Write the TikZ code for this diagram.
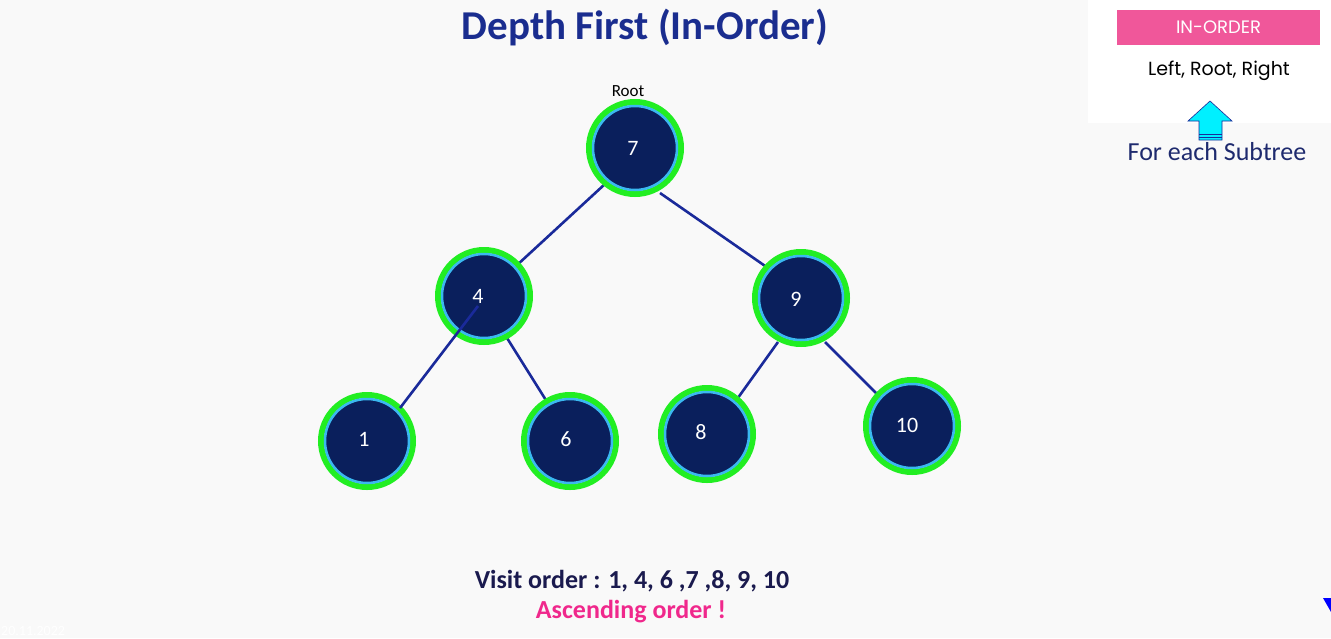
\documentclass[tikz,border=0pt]{standalone}
\usepackage{fontspec}
\setmainfont{Carlito}
\newfontfamily\pop{Poppins}
\definecolor{bg}{HTML}{F9F9F9}
\definecolor{navy}{HTML}{0A1F5C}
\definecolor{ringgreen}{HTML}{22EE22}
\definecolor{ringcyan}{HTML}{3AB8F0}
\definecolor{edgeblue}{HTML}{1A2A9A}
\definecolor{titleblue}{HTML}{1A2D8F}
\definecolor{textnavy}{HTML}{1A1A4E}
\definecolor{pinkbox}{HTML}{F0579A}
\definecolor{pinktext}{HTML}{F0288C}
\definecolor{subnavy}{HTML}{1E2A6E}
\definecolor{arrowcyan}{HTML}{00F0FF}
\begin{document}
\begin{tikzpicture}[x=1pt,y=-1pt,
  ring/.style={draw=ringgreen,line width=6pt},
  edge/.style={draw=edgeblue,line width=2.6pt},
  numlbl/.style={text=white,font=\fontsize{22}{24}\selectfont}]
\fill[bg] (0,0) rectangle (1331,638);
\useasboundingbox (0,0) rectangle (1331,638);
% top right panel
\fill[white] (1088,0) rectangle (1331,123);
\node[fill=pinkbox,minimum width=203pt,minimum height=35pt,inner sep=0pt,text=white,font=\pop\fontsize{18}{20}\selectfont] (io) at (1218.5,27) {IN-ORDER};
\node[text=black,font=\pop\fontsize{19}{21}\selectfont] (lrr) at (1219,71) {Left, Root, Right};
\draw[fill=arrowcyan,draw=edgeblue,line width=0.6pt] (1199,140) -- (1199,121) -- (1188,121) -- (1210,101) -- (1232,121) -- (1222,121) -- (1222,140) -- cycle;
\draw[edgeblue,line width=0.6pt] (1199,134) -- (1222,134) (1199,137) -- (1222,137);
\node[text=subnavy,font=\fontsize{26}{29}\selectfont] (fes) at (1217,152) {For each Subtree};
% title
\node[text=titleblue,font=\bfseries\fontsize{41}{46}\selectfont] (title) at (645,28) {Depth First (In-Order)};
\node[text=black,font=\fontsize{17}{19}\selectfont] (rootlbl) at (628,91) {Root};
% nodes
\coordinate (c7) at (635,148);
\coordinate (c4) at (484,296);
\coordinate (c9) at (801,298);
\coordinate (c1) at (367,441);
\coordinate (c6) at (570,441);
\coordinate (c8) at (707,434);
\coordinate (c10) at (912,426);
% edges
\draw[edge] (605,184) -- (516,266);
\draw[edge] (660,193) -- (768,268);
\draw[edge] (507,338) -- (549,405);
\draw[edge] (778,342) -- (735,402);
\draw[edge] (825,342) -- (883,400);
\foreach \c in {c7,c4,c9,c1,c6,c8,c10}{
  \draw[ring] (\c) circle (46pt);
  \draw[ringcyan,line width=2.5pt,fill=navy] (\c) circle (42pt);
}
\draw[edge] (478,306) -- (400,408);
\node[numlbl] (n7) at (633,148) {7};
\node[numlbl] (n4) at (478,296) {4};
\node[numlbl] (n9) at (796,299) {9};
\node[numlbl] (n1) at (364,439) {1};
\node[numlbl] (n6) at (566,439) {6};
\node[numlbl] (n8) at (701,432) {8};
\node[numlbl] (n10) at (907,425) {10};
% bottom text
\node[text=textnavy,font=\bfseries\fontsize{26}{29}\selectfont] (visit) at (632,581) {Visit order : 1, 4, 6 ,7 ,8, 9, 10};
\node[text=pinktext,font=\bfseries\fontsize{26}{29}\selectfont] (asc) at (631,612) {Ascending order !};
\node[text=white,font=\fontsize{14}{16}\selectfont,anchor=south west,inner sep=1pt] (date) at (0,637) {20.11.2022};
\fill[blue] (1323,598) -- (1331,598) -- (1331,612) -- cycle;
\end{tikzpicture}
\end{document}
